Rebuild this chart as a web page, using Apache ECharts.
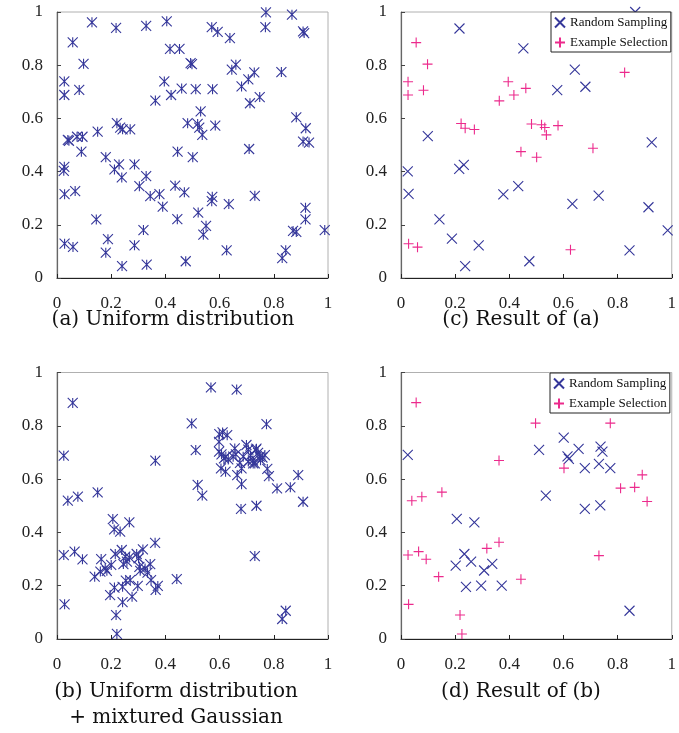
<!DOCTYPE html>
<html>
<head>
<meta charset="utf-8">
<script src="https://cdn.jsdelivr.net/npm/echarts@6/dist/echarts.min.js"></script>
<style>
html,body{margin:0;padding:0;background:#fff;}
#c{width:679px;height:733px;}
</style>
</head>
<body>
<div id="c"></div>
<script>
// ---- data ----
var ticks = [0, 0.2, 0.4, 0.6, 0.8, 1];
var captions = ['(a) Uniform distribution', '(c) Result of (a)', '(b) Uniform distribution', '+ mixtured Gaussian', '(d) Result of (b)'];
var legendNames = ['Random Sampling', 'Example Selection'];

var aPoints = [
[0.129,0.961],[0.218,0.940],[0.329,0.948],[0.405,0.965],[0.771,0.999],[0.867,0.990],[0.769,0.943],[0.571,0.943],
[0.593,0.925],[0.638,0.902],[0.908,0.927],[0.912,0.921],[0.058,0.886],[0.417,0.861],[0.452,0.861],[0.098,0.805],
[0.493,0.808],[0.498,0.804],[0.645,0.783],[0.660,0.802],[0.728,0.773],[0.706,0.747],[0.681,0.720],[0.828,0.774],
[0.027,0.739],[0.027,0.688],[0.082,0.707],[0.396,0.739],[0.421,0.688],[0.460,0.712],[0.512,0.710],[0.574,0.710],
[0.363,0.667],[0.712,0.657],[0.748,0.680],[0.530,0.626],[0.883,0.604],[0.221,0.582],[0.233,0.565],[0.242,0.559],
[0.270,0.559],[0.150,0.550],[0.482,0.582],[0.519,0.579],[0.525,0.565],[0.536,0.538],[0.584,0.573],[0.918,0.563],
[0.040,0.519],[0.044,0.516],[0.074,0.531],[0.094,0.531],[0.090,0.475],[0.908,0.513],[0.930,0.509],[0.709,0.485],
[0.180,0.454],[0.445,0.475],[0.501,0.454],[0.027,0.418],[0.025,0.403],[0.212,0.408],[0.229,0.427],[0.286,0.427],
[0.239,0.378],[0.329,0.383],[0.304,0.345],[0.436,0.347],[0.470,0.322],[0.028,0.315],[0.067,0.327],[0.344,0.308],
[0.378,0.315],[0.573,0.305],[0.571,0.289],[0.634,0.278],[0.730,0.309],[0.390,0.268],[0.521,0.246],[0.917,0.264],
[0.917,0.220],[0.145,0.220],[0.444,0.221],[0.550,0.196],[0.540,0.163],[0.988,0.180],[0.871,0.177],[0.883,0.173],
[0.319,0.180],[0.188,0.146],[0.028,0.129],[0.059,0.117],[0.286,0.123],[0.180,0.095],[0.626,0.104],[0.844,0.104],
[0.831,0.075],[0.475,0.063],[0.240,0.045],[0.331,0.050]
];

var cRandom = [
[0.216,0.938],[0.452,0.863],[0.865,1.0],[0.642,0.783],[0.577,0.706],[0.681,0.719],[0.099,0.533],[0.926,0.510],
[0.025,0.401],[0.215,0.410],[0.232,0.425],[0.028,0.316],[0.378,0.314],[0.433,0.345],[0.730,0.310],[0.633,0.279],
[0.914,0.266],[0.142,0.220],[0.985,0.179],[0.188,0.148],[0.287,0.123],[0.844,0.104],[0.237,0.045],[0.474,0.063]
];

var cExample = [
[0.056,0.885],[0.098,0.804],[0.026,0.738],[0.026,0.688],[0.083,0.706],[0.396,0.738],[0.363,0.666],[0.417,0.688],
[0.461,0.713],[0.826,0.773],[0.222,0.581],[0.237,0.563],[0.271,0.558],[0.482,0.579],[0.519,0.576],[0.531,0.566],
[0.537,0.538],[0.580,0.573],[0.443,0.475],[0.501,0.454],[0.709,0.488],[0.028,0.129],[0.061,0.116],[0.626,0.106]
];

var bPoints = [
[0.058,0.886],[0.025,0.688],[0.040,0.519],[0.077,0.534],[0.150,0.550],[0.025,0.315],[0.065,0.328],[0.094,0.299],
[0.028,0.130],[0.568,0.944],[0.663,0.936],[0.497,0.809],[0.773,0.806],[0.512,0.709],[0.363,0.669],[0.519,0.578],
[0.536,0.538],[0.679,0.488],[0.736,0.500],[0.730,0.311],[0.812,0.565],[0.861,0.569],[0.890,0.615],[0.908,0.515],
[0.831,0.075],[0.844,0.106],[0.442,0.225],[0.362,0.361],[0.206,0.450],[0.267,0.438],[0.211,0.411],[0.233,0.403],
[0.221,0.019],[0.218,0.090],
[0.599,0.769],[0.611,0.775],[0.628,0.765],[0.598,0.740],[0.598,0.703],[0.607,0.693],[0.616,0.678],[0.623,0.684],
[0.632,0.674],[0.605,0.640],[0.622,0.628],[0.656,0.715],[0.650,0.684],[0.665,0.615],[0.681,0.640],[0.675,0.661],
[0.681,0.581],[0.699,0.728],[0.706,0.711],[0.714,0.689],[0.723,0.670],[0.730,0.659],[0.736,0.714],[0.742,0.698],
[0.734,0.711],[0.748,0.684],[0.758,0.681],[0.751,0.671],[0.724,0.659],[0.776,0.638],[0.782,0.611],[0.687,0.684],
[0.706,0.666],[0.767,0.690],[0.660,0.693],
[0.139,0.234],[0.160,0.253],[0.163,0.300],[0.178,0.265],[0.184,0.256],[0.200,0.278],[0.215,0.319],[0.239,0.334],
[0.252,0.309],[0.258,0.290],[0.245,0.281],[0.267,0.306],[0.294,0.319],[0.301,0.303],[0.304,0.271],[0.317,0.336],
[0.344,0.281],[0.334,0.249],[0.347,0.221],[0.372,0.199],[0.364,0.184],[0.298,0.199],[0.270,0.221],[0.254,0.219],
[0.212,0.193],[0.242,0.196],[0.196,0.165],[0.242,0.138],[0.277,0.159],[0.307,0.256],[0.325,0.265]
];

var dRandom = [
[0.025,0.691],[0.601,0.756],[0.510,0.710],[0.656,0.713],[0.615,0.685],[0.620,0.676],[0.737,0.722],[0.744,0.703],
[0.731,0.657],[0.679,0.641],[0.773,0.641],[0.535,0.538],[0.679,0.488],[0.736,0.501],[0.206,0.451],[0.271,0.438],
[0.234,0.319],[0.259,0.290],[0.202,0.275],[0.337,0.282],[0.307,0.257],[0.240,0.196],[0.296,0.200],[0.372,0.200],
[0.844,0.106]
];

var dExample = [
[0.056,0.887],[0.497,0.810],[0.773,0.810],[0.362,0.670],[0.602,0.641],[0.891,0.616],[0.811,0.566],[0.863,0.569],
[0.909,0.516],[0.040,0.519],[0.077,0.534],[0.151,0.551],[0.731,0.313],[0.026,0.315],[0.065,0.328],[0.093,0.299],
[0.139,0.234],[0.317,0.340],[0.362,0.363],[0.443,0.224],[0.028,0.130],[0.218,0.090],[0.225,0.019]
];

// ---- styles ----
var BLUE = '#35379a';
var PINK = '#ec2a8c';
var STAR = 'path://M0,0L10,10M10,0L0,10M5,0L5,10';
var CROSS = 'path://M0,0L10,10M10,0L0,10';
var PLUS = 'path://M5,0L5,10M0,5L10,5';
var serif = 'Liberation Serif';
var capFont = '20px "DejaVu Serif"';

var grids = [
  {left: 57, top: 12, width: 271, height: 266},
  {left: 401, top: 12, width: 271, height: 266},
  {left: 57, top: 372.5, width: 271, height: 266.5},
  {left: 401, top: 372.5, width: 271, height: 266.5}
];

function xAx(i) {
  return {
    type: 'value', gridIndex: i, min: ticks[0], max: ticks[ticks.length - 1], interval: 0.2,
    axisLine: {show: true, onZero: false, lineStyle: {color: '#222', width: 1}},
    axisTick: {show: true, inside: true, length: 4, lineStyle: {color: '#222'}},
    axisLabel: {margin: 17, color: '#222', fontFamily: serif, fontSize: 17},
    splitLine: {show: false}
  };
}
function yAx(i) {
  return {
    type: 'value', gridIndex: i, min: ticks[0], max: ticks[ticks.length - 1], interval: 0.2,
    axisLine: {show: true, onZero: false, lineStyle: {color: '#666', width: 1.2}},
    axisTick: {show: true, inside: true, length: 4, lineStyle: {color: '#444'}},
    axisLabel: {margin: 14, color: '#222', fontFamily: serif, fontSize: 17},
    splitLine: {show: false}
  };
}
function sc(name, i, data, sym, color, size) {
  return {
    type: 'scatter', name: name, xAxisIndex: i, yAxisIndex: i, data: data,
    symbol: sym, symbolSize: size, clip: false,
    itemStyle: {color: color, borderColor: color, borderWidth: 1.1, opacity: 1},
    emphasis: {disabled: true}, silent: true
  };
}
function legendAt(left, top) {
  return {
    data: legendNames, orient: 'vertical', left: left, top: top,
    backgroundColor: '#fff', borderColor: '#222', borderWidth: 1, borderRadius: 0,
    padding: [4, 3, 3, 3], itemWidth: 10, itemHeight: 10, itemGap: 7,
    selectedMode: false,
    textStyle: {fontFamily: serif, fontSize: 13, color: '#111', lineHeight: 12}
  };
}
function cap(text, x, y) {
  return {type: 'text', x: x, y: y, style: {text: text, fill: '#111', font: capFont,
    textAlign: 'center', textVerticalAlign: 'middle'}};
}

var chart = echarts.init(document.getElementById('c'), null, {renderer: 'canvas'});
chart.setOption({
  animation: false,
  backgroundColor: '#fff',
  grid: grids.map(function (g) {
    return Object.assign({show: true, borderColor: '#b0b0b0', borderWidth: 1, backgroundColor: 'transparent'}, g);
  }),
  xAxis: [xAx(0), xAx(1), xAx(2), xAx(3)],
  yAxis: [yAx(0), yAx(1), yAx(2), yAx(3)],
  legend: [legendAt(551, 12), legendAt(550, 373)],
  series: [
    sc('Uniform', 0, aPoints, STAR, BLUE, 10),
    sc(legendNames[0], 1, cRandom, CROSS, BLUE, 10),
    sc(legendNames[1], 1, cExample, PLUS, PINK, 10),
    sc('Mixture', 2, bPoints, STAR, BLUE, 10),
    sc(legendNames[0], 3, dRandom, CROSS, BLUE, 10),
    sc(legendNames[1], 3, dExample, PLUS, PINK, 10)
  ],
  graphic: [
    cap(captions[0], 173, 320),
    cap(captions[1], 521, 320),
    cap(captions[2], 176, 692),
    cap(captions[3], 176, 718),
    cap(captions[4], 521, 692)
  ]
});
</script>
</body>
</html>
